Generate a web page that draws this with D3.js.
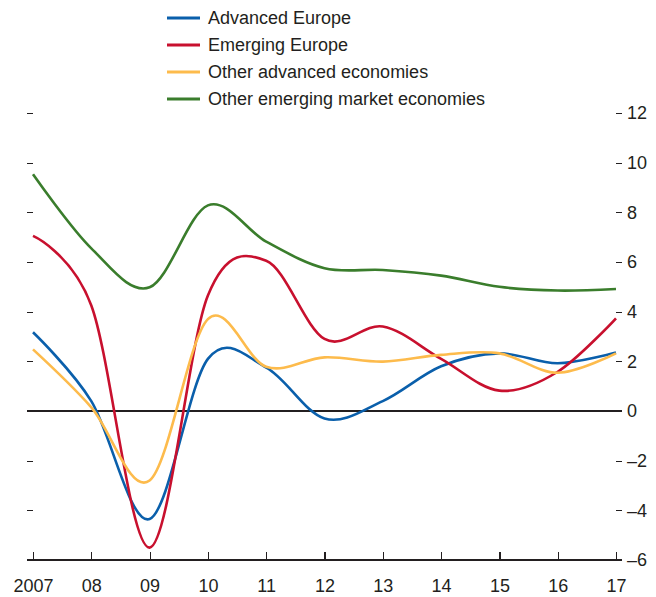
<!DOCTYPE html>
<html>
<head>
<meta charset="utf-8">
<script src="https://cdn.jsdelivr.net/npm/d3@7"></script>
<style>
  body { margin: 0; background: #fff; }
  svg { display: block; font-family: "Liberation Sans", Arial, sans-serif; }
  .axis text { font-size: 18px; fill: #231f20; }
  .axis line { stroke: #231f20; stroke-width: 1.2; shape-rendering: crispEdges; }
</style>
</head>
<body>
<svg id="chart"></svg>
<script>
// growth rates, percent
const years = [2007, 2008, 2009, 2010, 2011, 2012, 2013, 2014, 2015, 2016, 2017];
const yearLabels = ["2007", "08", "09", "10", "11", "12", "13", "14", "15", "16", "17"];
const advancedEurope = [3.17, 0.4, -4.35, 2.1, 1.75, -0.3, 0.4, 1.8, 2.32, 1.92, 2.36];
const emergingEurope = [7.05, 4.25, -5.5, 4.65, 6.05, 2.9, 3.4, 2.1, 0.82, 1.58, 3.73];
const otherAdvanced = [2.48, 0.15, -2.8, 3.7, 1.78, 2.16, 1.99, 2.26, 2.32, 1.54, 2.32];
const otherEmerging = [9.53, 6.55, 4.98, 8.28, 6.82, 5.75, 5.68, 5.45, 5.0, 4.85, 4.91];
const seriesNames = ["Advanced Europe", "Emerging Europe", "Other advanced economies", "Other emerging market economies"];
const seriesColors = ["#0a5fab", "#c8102e", "#fdbb4c", "#3a7d2c"];
const yTicks = [-6, -4, -2, 0, 2, 4, 6, 8, 10, 12];

let width = 656;
let height = 597;

let svg = d3.select('#chart')
    .attr('width', width)
    .attr('height', height);

let xScale = d3.scaleLinear()
    .domain([2007, 2017])
    .range([33, 616]);
let yScale = d3.scaleLinear()
    .domain([-6, 12])
    .range([560, 113]);

// left ticks, no labels
svg.append('g')
    .attr('class', 'axis')
    .attr('transform', `translate(${xScale(2007)},0)`)
    .call(d3.axisLeft(yScale).tickValues(yTicks.filter(d => d > -6)).tickSize(6).tickFormat(''))
    .call(g => g.select('.domain').remove());

// right ticks with labels
svg.append('g')
    .attr('class', 'axis')
    .attr('transform', `translate(${xScale(2017)},0)`)
    .call(d3.axisRight(yScale).tickValues(yTicks).tickSize(6).tickPadding(5)
        .tickFormat(d => d < 0 ? '\u2013' + Math.abs(d) : d))
    .call(g => g.select('.domain').remove());

// bottom axis, ticks pointing up
svg.append('g')
    .attr('class', 'axis')
    .attr('transform', `translate(0,${yScale(-6)})`)
    .call(d3.axisBottom(xScale).tickValues(years).tickSize(-8).tickPadding(19)
        .tickFormat((d, i) => yearLabels[i]))
    .call(g => g.select('.domain').remove());

// baseline and zero line
[-6, 0].forEach(v => {
    svg.append('line')
        .attr('x1', 27).attr('x2', 622)
        .attr('y1', yScale(v)).attr('y2', yScale(v))
        .attr('stroke', '#231f20')
        .attr('stroke-width', 1.2)
        .attr('shape-rendering', 'crispEdges');
});

let line = d3.line()
    .x((d, i) => xScale(years[i]))
    .y(d => yScale(d))
    .curve(d3.curveCardinal.tension(0));

let allSeries = [advancedEurope, emergingEurope, otherAdvanced, otherEmerging];
allSeries.forEach((s, k) => {
    svg.append('path')
        .datum(s)
        .attr('d', line)
        .attr('fill', 'none')
        .attr('stroke', seriesColors[k])
        .attr('stroke-width', 2.6);
});

// legend
let legend = svg.append('g');
seriesNames.forEach((name, k) => {
    let yy = 18 + k * 27;
    legend.append('line')
        .attr('x1', 167).attr('x2', 200)
        .attr('y1', yy).attr('y2', yy)
        .attr('stroke', seriesColors[k])
        .attr('stroke-width', 3);
    legend.append('text')
        .text(name)
        .attr('x', 208)
        .attr('y', yy)
        .attr('dy', '0.35em')
        .attr('font-size', 18)
        .attr('fill', '#231f20');
});
</script>
</body>
</html>
